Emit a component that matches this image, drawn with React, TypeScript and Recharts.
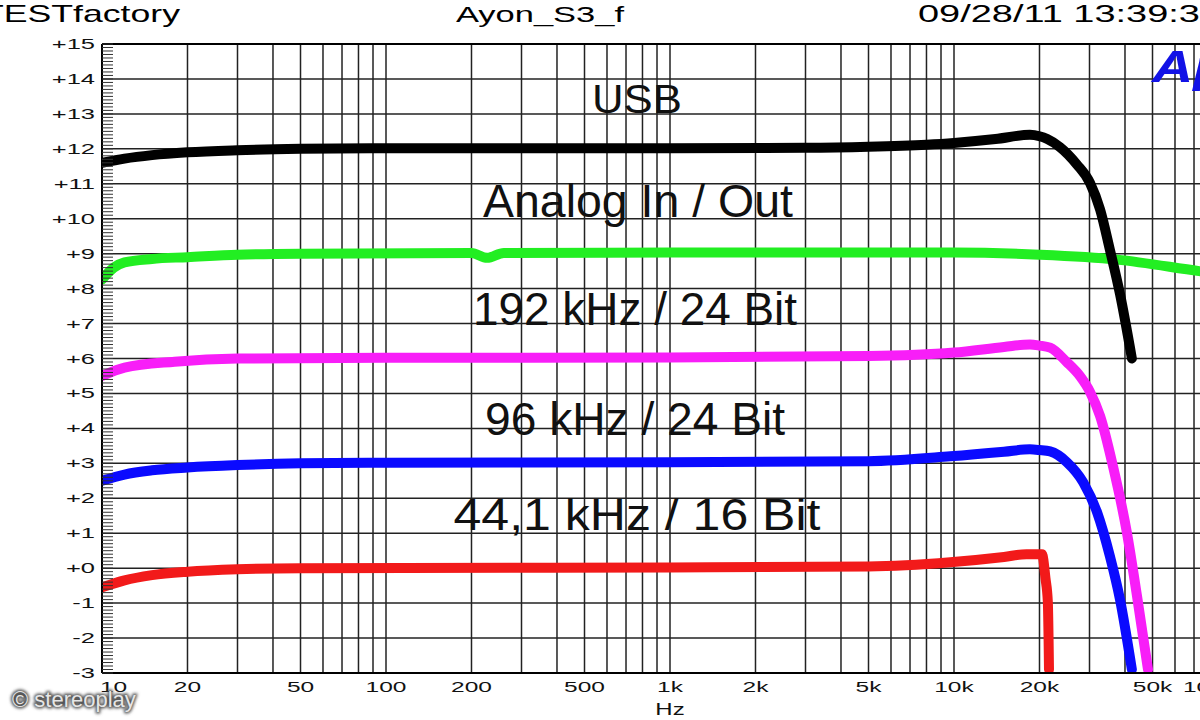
import React from 'react';
import { LineChart, Line, XAxis, YAxis, CartesianGrid, ReferenceLine } from 'recharts';

// axis ticks
const xTickHz = [10, 20, 50, 100, 200, 500, 1000, 2000, 5000, 10000, 20000, 50000, 100000];
const xTickLabels = ['10', '20', '50', '100', '200', '500', '1k', '2k', '5k', '10k', '20k', '50k', '100k'];
const yTicks = [-3, -2, -1, 0, 1, 2, 3, 4, 5, 6, 7, 8, 9, 10, 11, 12, 13, 14, 15];

// log grid: 2..10 in every decade
const gridDecades = [10, 100, 1000, 10000];
const gridSteps = [2, 3, 4, 5, 6, 7, 8, 9];
const gridHz = gridDecades.flatMap((d) => gridSteps.map((s) => d * s)).concat([100, 1000, 10000]);

// 0.1 dB minor ticks on the left edge
const minorTicks = Array.from({ length: 181 }, (_, i) => Math.round((-3 + i * 0.1) * 10) / 10);

// USB (black)
const usbHz = [10, 12, 15, 20, 30, 50, 100, 1000, 3000, 5000, 8000, 10000, 14000, 18500, 20000, 21300, 23600, 27100, 30100, 32700, 35400, 38400, 42300];
const usbDb = [11.6, 11.72, 11.82, 11.9, 11.96, 12.0, 12.02, 12.02, 12.03, 12.06, 12.12, 12.17, 12.28, 12.4, 12.36, 12.28, 12.05, 11.55, 11.03, 10.26, 9.11, 7.85, 6.0];

// Analog In / Out (green)
const analogHz = [10, 11, 12, 15, 20, 30, 50, 200, 227, 260, 1000, 10000, 20000, 37500, 73000, 100000];
const analogDb = [8.26, 8.6, 8.75, 8.85, 8.9, 8.97, 9.0, 9.02, 8.88, 9.02, 9.03, 9.03, 8.97, 8.83, 8.5, 8.35];

// 192 kHz / 24 Bit (magenta)
const hz192 = [10, 12, 18, 30, 100, 1000, 5000, 10000, 15000, 18500, 20000, 21800, 25000, 27800, 30100, 32700, 36300, 40600, 44100, 48200];
const db192 = [5.5, 5.74, 5.91, 6.0, 6.02, 6.03, 6.07, 6.17, 6.33, 6.4, 6.37, 6.31, 5.89, 5.49, 5.05, 4.35, 2.91, 1.03, -0.8, -2.9];

// 96 kHz / 24 Bit (blue)
const hz96 = [10, 12, 15, 20, 30, 50, 100, 1000, 5000, 9700, 15000, 18500, 20000, 21800, 25000, 28500, 31900, 35400, 38400, 42300];
const db96 = [2.5, 2.68, 2.8, 2.88, 2.95, 3.0, 3.02, 3.03, 3.06, 3.2, 3.33, 3.4, 3.38, 3.34, 3.03, 2.46, 1.6, 0.34, -0.89, -2.9];

// 44,1 kHz / 16 Bit (red)
const hz44 = [10, 12, 15, 20, 30, 50, 1000, 5000, 9700, 15000, 18000, 20400, 21000, 21400, 21600];
const db44 = [-0.55, -0.35, -0.2, -0.1, -0.03, 0.0, 0.02, 0.05, 0.17, 0.32, 0.4, 0.4, -0.3, -0.97, -2.9];

const zip = (hz: number[], db: number[]) => hz.map((h, i) => ({ hz: h, db: db[i] }));

const FONT = '"Liberation Sans", Arial, Helvetica, sans-serif';

const XTick = (props: any) => {
  const { x, y, payload } = props;
  const i = xTickHz.indexOf(payload.value);
  const label = i >= 0 ? xTickLabels[i] : String(payload.value);
  const anchor = i === 0 ? 'start' : i === xTickHz.length - 1 ? 'end' : 'middle';
  const dx = i === 0 || i === xTickHz.length - 1 ? -2 : 0;
  return (
    <text
      transform={`translate(${x + dx},${y + 17}) scale(1.75,1)`}
      textAnchor={anchor}
      fontSize={14}
      fontFamily={FONT}
      fill="#111"
    >
      {label}
    </text>
  );
};

const YTick = (props: any) => {
  const { x, y, payload } = props;
  const v = payload.value;
  const label = v >= 0 ? `+${v}` : `${v}`;
  return (
    <text
      transform={`translate(${x},${y + 5}) scale(1.7,1)`}
      textAnchor="end"
      fontSize={15}
      fontFamily={FONT}
      fill="#111"
    >
      {label}
    </text>
  );
};

// short dash drawn inward from the left frame
const MinorTick = (props: any) => {
  const { x, y } = props;
  return <line x1={x} x2={x + 11} y1={y} y2={y} stroke="#333" strokeWidth={1} />;
};

const lineProps = {
  dataKey: 'db',
  type: 'monotone' as const,
  strokeWidth: 10,
  dot: false,
  activeDot: false,
  isAnimationActive: false,
  strokeLinecap: 'round' as const,
  strokeLinejoin: 'round' as const,
};

export default function App() {
  return (
    <div
      style={{
        position: 'fixed',
        left: 0,
        top: 0,
        width: 1200,
        height: 720,
        overflow: 'hidden',
        background: '#fff',
      }}
    >
      <LineChart width={1300} height={720} margin={{ top: 44, right: 62, bottom: 0, left: 0 }}>
        <CartesianGrid vertical={false} stroke="#222" strokeWidth={1.5} strokeDasharray="" />
        <XAxis
          dataKey="hz"
          type="number"
          scale="log"
          domain={[10, 100000]}
          ticks={xTickHz}
          interval={0}
          allowDataOverflow
          height={47}
          tickLine={false}
          tickSize={0}
          tick={<XTick />}
          axisLine={{ stroke: '#000', strokeWidth: 2 }}
        />
        <YAxis
          type="number"
          domain={[-3, 15]}
          ticks={yTicks}
          interval={0}
          allowDataOverflow
          width={102}
          tickLine={false}
          tickSize={0}
          tickMargin={7}
          tick={<YTick />}
          axisLine={{ stroke: '#000', strokeWidth: 2 }}
        />
        <YAxis
          yAxisId="minor"
          type="number"
          orientation="left"
          mirror
          domain={[-3, 15]}
          ticks={minorTicks}
          interval={0}
          allowDataOverflow
          tick={<MinorTick />}
          tickSize={0}
          tickMargin={0}
          tickLine={false}
          axisLine={false}
        />
        {gridHz.map((h) => (
          <ReferenceLine key={h} x={h} stroke="#222" strokeWidth={1.5} ifOverflow="hidden" />
        ))}
        <ReferenceLine y={15} stroke="#000" strokeWidth={2} />
        <Line {...lineProps} data={zip(analogHz, analogDb)} stroke="#22ee22" />
        <Line {...lineProps} data={zip(usbHz, usbDb)} stroke="#000000" />
        <Line {...lineProps} data={zip(hz192, db192)} stroke="#f81ef8" />
        <Line {...lineProps} data={zip(hz96, db96)} stroke="#0a0aff" />
        <Line {...lineProps} data={zip(hz44, db44)} stroke="#f21a1a" />
      </LineChart>

      <svg
        width={1200}
        height={720}
        style={{ position: 'absolute', left: 0, top: 0, pointerEvents: 'none' }}
      >
        <defs>
          <filter id="wm-shadow" x="-10%" y="-30%" width="120%" height="160%">
            <feGaussianBlur stdDeviation="1.6" />
          </filter>
        </defs>
        {/* header */}
        <g fontFamily={FONT} fontSize={23} fill="#000">
          <text transform="translate(180,22) scale(1.55,1)" textAnchor="end">TESTfactory</text>
          <text transform="translate(540,22) scale(1.5,1)" textAnchor="middle">Ayon_S3_f</text>
          <text transform="translate(918,22) scale(1.65,1)" textAnchor="start">09/28/11 13:39:35</text>
        </g>
        <text
          transform="translate(1152,82) scale(1.3,1)"
          fontFamily={FONT}
          fontSize={44}
          fontWeight="bold"
          fontStyle="italic"
          fill="#1212e6"
        >
          Ap
        </text>
        {/* curve annotations */}
        <g fontFamily={FONT} fill="#111" textAnchor="middle">
          <text x={637} y={113} fontSize={40} textLength={90} lengthAdjust="spacingAndGlyphs">USB</text>
          <text x={638} y={217} fontSize={46} textLength={310} lengthAdjust="spacingAndGlyphs">Analog In / Out</text>
          <text x={635} y={325} fontSize={46} textLength={324} lengthAdjust="spacingAndGlyphs">192 kHz / 24 Bit</text>
          <text x={635} y={435} fontSize={46} textLength={300} lengthAdjust="spacingAndGlyphs">96 kHz / 24 Bit</text>
          <text x={637} y={530} fontSize={44} textLength={367} lengthAdjust="spacingAndGlyphs">44,1 kHz / 16 Bit</text>
        </g>
        {/* x axis unit */}
        <text transform="translate(670,715) scale(1.5,1)" textAnchor="middle" fontFamily={FONT} fontSize={16} fill="#111">
          Hz
        </text>
        {/* watermark */}
        <text x={12} y={707} fontFamily={FONT} fontSize={22} fill="#555" stroke="#555" strokeWidth={3} filter="url(#wm-shadow)">
          © stereoplay
        </text>
        <text x={12} y={707} fontFamily={FONT} fontSize={22} fill="#e6e6e6">
          © stereoplay
        </text>
      </svg>
    </div>
  );
}
